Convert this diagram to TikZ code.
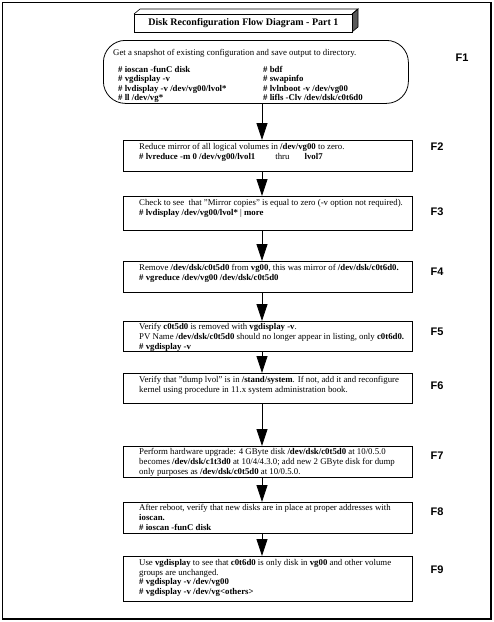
\documentclass[tikz,border=0pt]{standalone}
\usepackage{fontspec}
\setmainfont{Liberation Serif}
\newfontfamily\labfont{Liberation Sans}
\usetikzlibrary{arrows.meta}
\begin{document}
\begin{tikzpicture}[x=1pt,y=-1pt,
  stepbox/.style={draw,line width=0.8pt,minimum width=289pt,anchor=north west,inner sep=0pt},
  txt/.style={anchor=north west,inner sep=0pt,align=left,font=\fontsize{8.8}{9.8}\selectfont},
  cmd/.style={txt,font=\bfseries\fontsize{8.8}{9.3}\selectfont},
  flab/.style={font=\labfont\bfseries\fontsize{11}{13}\selectfont},
  flow/.style={-{Triangle[length=17pt,width=11pt]},line width=0.8pt}]
\path[use as bounding box] (0,0) rectangle (494,622);
\draw[line width=1.8pt] (2.5,2.5) rectangle (491,619);
% title
\fill[black!65] (352,14) -- (358,9) -- (358,27) -- (352,32) -- cycle;
\draw[line width=0.6pt] (134,14) -- (140,9) -- (358,9) -- (352,14);
\draw[line width=0.6pt] (352,14) -- (358,9) -- (358,27) -- (352,32);
\node[draw,line width=0.8pt,minimum width=218pt,minimum height=18pt,anchor=north west,inner sep=0pt,
  font=\bfseries\fontsize{10}{12}\selectfont] (title) at (134,14) {Disk Reconfiguration Flow Diagram - Part 1};
% boxes
\node[draw,line width=0.8pt,rounded corners=22pt,minimum width=305pt,minimum height=63pt,anchor=north west] (f1) at (103,40) {};
\node[stepbox,minimum height=31pt] (f2) at (123,140) {};
\node[stepbox,minimum height=34pt] (f3) at (123,196) {};
\node[stepbox,minimum height=31pt] (f4) at (123,261) {};
\node[stepbox,minimum height=30pt] (f5) at (123,321) {};
\node[stepbox,minimum height=30pt] (f6) at (123,373) {};
\node[stepbox,minimum height=31pt] (f7) at (123,446) {};
\node[stepbox,minimum height=31pt] (f8) at (123,502) {};
\node[stepbox,minimum height=45pt] (f9) at (123,556) {};
% texts
\node[txt] (t1) at ([shift={(10,9)}]f1.north west) {Get a snapshot of existing configuration and save output to directory.};
\node[cmd] (t1a) at ([shift={(15,26)}]f1.north west)
  {\# ioscan -funC disk\\\# vgdisplay -v\\\# lvdisplay -v /dev/vg00/lvol*\\\# ll /dev/vg*};
\node[cmd] (t1b) at ([shift={(160,26)}]f1.north west)
  {\# bdf\\\# swapinfo\\\# lvlnboot -v /dev/vg00\\\# lifls -Clv /dev/dsk/c0t6d0};
\node[txt] (t2) at ([shift={(16,3)}]f2.north west)
  {Reduce mirror of all logical volumes in \textbf{/dev/vg00} to zero.\\
   \textbf{\# lvreduce -m 0 /dev/vg00/lvol1}\hspace{20pt}thru\hspace{15pt}\textbf{lvol7}};
\node[txt] (t3) at ([shift={(16,3)}]f3.north west)
  {Check to see\ \ that "Mirror copies" is equal to zero (-v option not required).\\
   \textbf{\# lvdisplay /dev/vg00/lvol*} | \textbf{more}};
\node[txt] (t4) at ([shift={(16,3)}]f4.north west)
  {Remove \textbf{/dev/dsk/c0t5d0} from \textbf{vg00}, this was mirror of \textbf{/dev/dsk/c0t6d0.}\\
   \textbf{\# vgreduce /dev/vg00 /dev/dsk/c0t5d0}};
\node[txt] (t5) at ([shift={(16,2)}]f5.north west)
  {Verify \textbf{c0t5d0} is removed with \textbf{vgdisplay -v}.\\
   PV Name \textbf{/dev/dsk/c0t5d0} should no longer appear in listing, only \textbf{c0t6d0.}\\
   \textbf{\# vgdisplay -v}};
\node[txt] (t6) at ([shift={(16,3)}]f6.north west)
  {Verify that "dump lvol" is in \textbf{/stand/system}. If not, add it and reconfigure\\
   kernel using procedure in 11.x system administration book.};
\node[txt] (t7) at ([shift={(16,2)}]f7.north west)
  {Perform hardware upgrade: 4 GByte disk \textbf{/dev/dsk/c0t5d0} at 10/0.5.0\\
   becomes \textbf{/dev/dsk/c1t3d0} at 10/4/4.3.0; add new 2 GByte disk for dump\\
   only purposes as \textbf{/dev/dsk/c0t5d0} at 10/0.5.0.};
\node[txt] (t8) at ([shift={(16,2)}]f8.north west)
  {After reboot, verify that new disks are in place at proper addresses with\\
   \textbf{ioscan.}\\
   \textbf{\# ioscan -funC disk}};
\node[txt] (t9) at ([shift={(16,3)}]f9.north west)
  {Use \textbf{vgdisplay} to see that \textbf{c0t6d0} is only disk in \textbf{vg00} and other volume\\
   groups are unchanged.\\
   \textbf{\# vgdisplay -v /dev/vg00}\\
   \textbf{\# vgdisplay -v /dev/vg<others>}};
% labels
\node[flab] (l1) at (462,58) {F1};
\node[flab] (l2) at (437,147) {F2};
\node[flab] (l3) at (437,212) {F3};
\node[flab] (l4) at (437,272) {F4};
\node[flab] (l5) at (437,332) {F5};
\node[flab] (l6) at (437,386) {F6};
\node[flab] (l7) at (437,456) {F7};
\node[flab] (l8) at (437,512) {F8};
\node[flab] (l9) at (437,570) {F9};
% arrows
\coordinate (ax) at (262,0);
\draw[flow] (f1.south -| ax) -- (f2.north -| ax);
\draw[flow] (f2.south -| ax) -- (f3.north -| ax);
\draw[flow] (f3.south -| ax) -- (f4.north -| ax);
\draw[flow] (f4.south -| ax) -- (f5.north -| ax);
\draw[flow] (f5.south -| ax) -- (f6.north -| ax);
\draw[flow] (f6.south -| ax) -- (f7.north -| ax);
\draw[flow] (f7.south -| ax) -- (f8.north -| ax);
\draw[flow] (f8.south -| ax) -- (f9.north -| ax);
\end{tikzpicture}
\end{document}
